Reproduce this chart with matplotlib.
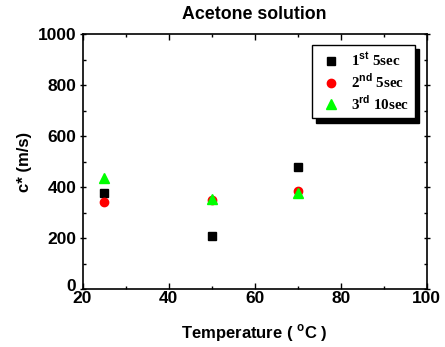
import matplotlib
matplotlib.use("Agg")
import matplotlib.pyplot as plt
from matplotlib.ticker import MultipleLocator
from matplotlib.transforms import ScaledTranslation

temps = [25, 50, 70]
first_5sec = [379, 209, 478]
second_5sec = [343, 352, 385]
third_10sec = [437, 355, 378]
labels = [r"1$^{\mathbf{st}}$ 5sec", r"2$^{\mathbf{nd}}$ 5sec", r"3$^{\mathbf{rd}}$ 10sec"]
title = "Acetone solution"
xlabel = r"Temperature ( $^{\mathbf{o}}$C )"
ylabel = "c* (m/s)"

plt.rcParams['font.family'] = ['Liberation Sans', 'DejaVu Sans']
plt.rcParams['mathtext.fontset'] = 'custom'
plt.rcParams['mathtext.bf'] = 'Liberation Sans:bold'
plt.rcParams['mathtext.rm'] = 'Liberation Sans:bold'

fig = plt.figure(figsize=(4.45, 3.47), dpi=100)
ax = fig.add_axes([0.1854, 0.1663, 0.9590 - 0.1854, 0.9006 - 0.1663])

ax.plot(temps, first_5sec, 's', color='black', markersize=5.2, label=labels[0], linestyle='none')
ax.plot(temps, second_5sec, 'o', color='red', markersize=6, label=labels[1], linestyle='none')
ax.plot(temps, third_10sec, '^', color='#00ff00', markersize=7, label=labels[2], linestyle='none')

ax.set_xlim(20, 100)
ax.set_ylim(0, 1000)
ax.xaxis.set_major_locator(MultipleLocator(20))
ax.xaxis.set_minor_locator(MultipleLocator(10))
ax.yaxis.set_major_locator(MultipleLocator(200))
ax.yaxis.set_minor_locator(MultipleLocator(100))

ax.tick_params(axis='both', which='both', top=True, right=True, direction='in', width=1)
ax.tick_params(axis='y', which='major', direction='inout', length=5, pad=2)
ax.tick_params(axis='x', which='major', length=4, pad=1)
ax.tick_params(which='minor', length=2.5)
for sp in ax.spines.values():
    sp.set_linewidth(1.2)

for lab in ax.get_xticklabels() + ax.get_yticklabels():
    lab.set_fontsize(12.5)
    lab.set_fontweight('bold')

fig.canvas.draw()
# nudge the y "0" label slightly up, as in the reference
for lab in ax.get_yticklabels():
    if lab.get_text() == '0':
        lab.set_transform(lab.get_transform() + ScaledTranslation(0, 3 / 72, fig.dpi_scale_trans))

ax.set_title(title, fontsize=12.8, fontweight='bold', pad=11)
ax.set_xlabel(xlabel, fontsize=12, fontweight='bold', labelpad=12)
ax.set_ylabel(ylabel, fontsize=12, fontweight='bold', labelpad=4)

leg = ax.legend(loc='upper right', bbox_to_anchor=(0.966, 0.959), fancybox=False,
                framealpha=1, edgecolor='black', borderaxespad=0,
                shadow={'color': 'black', 'alpha': 1, 'ox': 3, 'oy': -3},
                prop={'family': 'Liberation Serif', 'weight': 'bold', 'size': 10.8},
                handletextpad=0.5, handlelength=1.7, borderpad=0.4, labelspacing=0.2)
leg.get_frame().set_linewidth(1.0)

fig.savefig("out.png", dpi=100)
